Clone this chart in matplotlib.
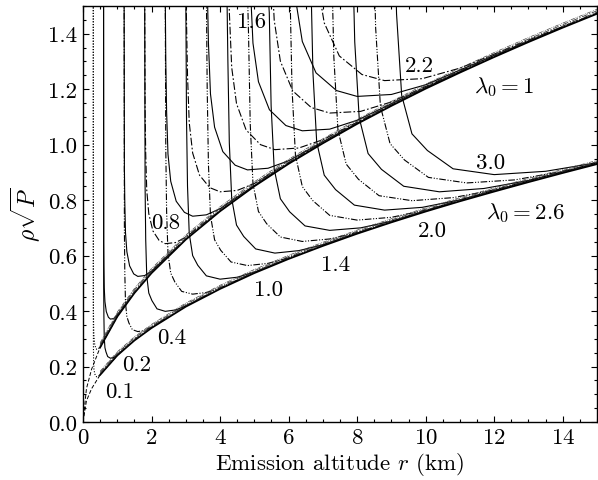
import matplotlib
matplotlib.use("Agg")
import matplotlib.pyplot as plt
from matplotlib import transforms
from matplotlib.ticker import MultipleLocator, FormatStrFormatter

plt.rcParams["font.family"] = ["cmr10", "DejaVu Serif"]
plt.rcParams["mathtext.fontset"] = "cm"
plt.rcParams["axes.formatter.use_mathtext"] = True
plt.rcParams["font.size"] = 16.5

# ---------------- data ----------------
# envelopes (lambda0 = 1 upper band, lambda0 = 2.6 lower band)
env_r = [0.0, 0.1, 0.25, 0.5, 1.0, 1.5, 2.0, 3.0, 4.0, 5.0, 6.0, 7.0, 8.0, 9.0, 10.0, 11.0, 12.0, 13.0, 14.0, 15.0]
env_lam1 = [0.0, 0.12, 0.19, 0.269, 0.38, 0.465, 0.537, 0.658, 0.76, 0.85, 0.931, 1.005, 1.075, 1.14, 1.202, 1.26, 1.316, 1.37, 1.422, 1.472]
env_lam26 = [0.0, 0.076, 0.12, 0.17, 0.24, 0.294, 0.339, 0.416, 0.48, 0.537, 0.588, 0.635, 0.679, 0.72, 0.759, 0.796, 0.831, 0.865, 0.898, 0.93]

# lambda0 = 1 family: curve parameter values and curves (r in km, rho*sqrt(P))
lam1_p = [0.1, 0.2, 0.4, 0.6, 0.8, 1.0, 1.2, 1.4, 1.6, 1.8, 2.0, 2.2]
lam1_r = [
    [0.300, 0.302, 0.305, 0.310, 0.320, 0.340, 0.370, 0.400, 0.450, 0.500, 0.600, 0.700],
    [0.600, 0.604, 0.610, 0.620, 0.640, 0.680, 0.740, 0.800, 0.900, 1.000, 1.200, 1.400],
    [1.200, 1.208, 1.220, 1.240, 1.280, 1.360, 1.480, 1.600, 1.800, 2.000, 2.400, 2.800],
    [1.800, 1.812, 1.830, 1.860, 1.920, 2.040, 2.220, 2.400, 2.700, 3.000, 3.600, 4.200],
    [2.400, 2.416, 2.440, 2.480, 2.560, 2.720, 2.960, 3.200, 3.600, 4.000, 4.800, 5.600],
    [3.000, 3.020, 3.050, 3.100, 3.200, 3.400, 3.700, 4.000, 4.500, 5.000, 6.000, 7.000],
    [3.624, 3.660, 3.720, 3.840, 4.080, 4.440, 4.800, 5.400, 6.000, 7.200, 8.400],
    [4.228, 4.270, 4.340, 4.480, 4.760, 5.180, 5.600, 6.300, 7.000, 8.400, 9.800],
    [4.880, 4.960, 5.120, 5.440, 5.920, 6.400, 7.200, 8.000, 9.600, 11.200],
    [5.490, 5.580, 5.760, 6.120, 6.660, 7.200, 8.100, 9.000, 10.800, 12.600],
    [6.100, 6.200, 6.400, 6.800, 7.400, 8.000, 9.000, 10.000, 12.000, 14.000],
    [6.820, 7.040, 7.480, 8.140, 8.800, 9.900, 11.000, 13.200, 15.400],
]
lam1_y = [
    [1.550, 0.459, 0.395, 0.342, 0.307, 0.281, 0.267, 0.262, 0.264, 0.272, 0.296, 0.318],
    [1.550, 0.648, 0.559, 0.483, 0.434, 0.398, 0.378, 0.371, 0.373, 0.385, 0.418, 0.450],
    [1.550, 0.917, 0.791, 0.683, 0.614, 0.563, 0.534, 0.525, 0.528, 0.544, 0.591, 0.637],
    [1.550, 1.123, 0.968, 0.837, 0.751, 0.689, 0.655, 0.643, 0.647, 0.666, 0.724, 0.780],
    [1.550, 1.297, 1.118, 0.966, 0.868, 0.796, 0.756, 0.742, 0.747, 0.769, 0.836, 0.901],
    [1.550, 1.450, 1.250, 1.080, 0.970, 0.890, 0.845, 0.830, 0.835, 0.860, 0.935, 1.007],
    [1.588, 1.369, 1.183, 1.063, 0.975, 0.926, 0.909, 0.915, 0.942, 1.024, 1.103],
    [1.716, 1.479, 1.278, 1.148, 1.053, 1.000, 0.982, 0.988, 1.018, 1.106, 1.191],
    [1.581, 1.366, 1.227, 1.126, 1.069, 1.050, 1.056, 1.088, 1.183, 1.274],
    [1.677, 1.449, 1.301, 1.194, 1.134, 1.114, 1.120, 1.154, 1.254, 1.351],
    [1.768, 1.527, 1.372, 1.259, 1.195, 1.174, 1.181, 1.216, 1.322, 1.424],
    [1.602, 1.439, 1.320, 1.253, 1.231, 1.238, 1.276, 1.387, 1.494],
]

# lambda0 = 2.6 family
lam26_p = [0.1, 0.2, 0.4, 0.6, 0.8, 1.0, 1.2, 1.4, 1.6, 1.8, 2.0, 2.2, 2.4, 2.6, 2.8, 3.0]
lam26_r = [
    [0.300, 0.302, 0.305, 0.310, 0.320, 0.335, 0.360, 0.400, 0.450, 0.500, 0.600],
    [0.600, 0.604, 0.610, 0.620, 0.640, 0.670, 0.720, 0.800, 0.900, 1.000, 1.200],
    [1.200, 1.208, 1.220, 1.240, 1.280, 1.340, 1.440, 1.600, 1.800, 2.000, 2.400],
    [1.800, 1.812, 1.830, 1.860, 1.920, 2.010, 2.160, 2.400, 2.700, 3.000, 3.600],
    [2.400, 2.416, 2.440, 2.480, 2.560, 2.680, 2.880, 3.200, 3.600, 4.000, 4.800],
    [3.000, 3.020, 3.050, 3.100, 3.200, 3.350, 3.600, 4.000, 4.500, 5.000, 6.000],
    [3.600, 3.624, 3.660, 3.720, 3.840, 4.020, 4.320, 4.800, 5.400, 6.000, 7.200],
    [4.200, 4.228, 4.270, 4.340, 4.480, 4.690, 5.040, 5.600, 6.300, 7.000, 8.400],
    [4.800, 4.832, 4.880, 4.960, 5.120, 5.360, 5.760, 6.400, 7.200, 8.000, 9.600],
    [5.400, 5.436, 5.490, 5.580, 5.760, 6.030, 6.480, 7.200, 8.100, 9.000, 10.800],
    [6.040, 6.100, 6.200, 6.400, 6.700, 7.200, 8.000, 9.000, 10.000, 12.000],
    [6.644, 6.710, 6.820, 7.040, 7.370, 7.920, 8.800, 9.900, 11.000, 13.200],
    [7.248, 7.320, 7.440, 7.680, 8.040, 8.640, 9.600, 10.800, 12.000, 14.400],
    [7.852, 7.930, 8.060, 8.320, 8.710, 9.360, 10.400, 11.700, 13.000, 15.600],
    [8.456, 8.540, 8.680, 8.960, 9.380, 10.080, 11.200, 12.600, 14.000, 16.800],
    [9.060, 9.150, 9.300, 9.600, 10.050, 10.800, 12.000, 13.500, 15.000, 18.000],
]
lam26_y = [
    [1.550, 0.348, 0.269, 0.215, 0.190, 0.179, 0.167, 0.163, 0.165, 0.171, 0.187],
    [1.550, 0.492, 0.380, 0.304, 0.268, 0.253, 0.236, 0.230, 0.233, 0.241, 0.264],
    [1.550, 0.696, 0.538, 0.430, 0.380, 0.357, 0.333, 0.326, 0.330, 0.342, 0.373],
    [1.550, 0.852, 0.658, 0.527, 0.465, 0.438, 0.408, 0.399, 0.404, 0.418, 0.457],
    [1.550, 0.984, 0.760, 0.608, 0.537, 0.505, 0.471, 0.461, 0.467, 0.483, 0.528],
    [1.550, 1.100, 0.850, 0.680, 0.600, 0.565, 0.527, 0.515, 0.522, 0.540, 0.590],
    [1.550, 1.205, 0.931, 0.745, 0.657, 0.619, 0.577, 0.564, 0.572, 0.592, 0.646],
    [1.550, 1.302, 1.006, 0.805, 0.710, 0.669, 0.624, 0.609, 0.618, 0.639, 0.698],
    [1.550, 1.391, 1.075, 0.860, 0.759, 0.715, 0.667, 0.651, 0.660, 0.683, 0.746],
    [1.550, 1.476, 1.140, 0.912, 0.805, 0.758, 0.707, 0.691, 0.700, 0.724, 0.792],
    [1.556, 1.202, 0.962, 0.849, 0.799, 0.745, 0.728, 0.738, 0.764, 0.834],
    [1.632, 1.261, 1.009, 0.890, 0.838, 0.782, 0.764, 0.774, 0.801, 0.875],
    [1.704, 1.317, 1.053, 0.930, 0.875, 0.816, 0.798, 0.809, 0.837, 0.914],
    [1.774, 1.371, 1.097, 0.968, 0.911, 0.850, 0.830, 0.842, 0.871, 0.951],
    [1.841, 1.422, 1.138, 1.004, 0.945, 0.882, 0.862, 0.873, 0.904, 0.987],
    [1.905, 1.472, 1.178, 1.039, 0.979, 0.913, 0.892, 0.904, 0.935, 1.022],
]

# curve labels (text, r, y)
label_text = ["0.1", "0.2", "0.4", "0.8", "1.0", "1.4", "1.6", "2.0", "2.2", "3.0"]
label_r = [1.07, 1.56, 2.60, 2.40, 5.42, 7.37, 4.93, 10.2, 9.83, 11.9]
label_y = [0.112, 0.21, 0.307, 0.72, 0.48, 0.57, 1.444, 0.69, 1.285, 0.935]

# ---------------- styles ----------------
SOLID = "-"
DASHDOT = (0, (7, 2, 1.5, 2))
DASHDOTDOT = (0, (6, 1.5, 1, 1.5, 1, 1.5))
DOTTED = (0, (1, 1.5))
DASHED = (0, (4, 2))


def style_lam1(i):
    if i == 0:
        return DOTTED
    if i == 1:
        return SOLID
    return SOLID if i % 2 == 0 else DASHDOT


def style_lam26(i):
    if i == 0:
        return DOTTED
    return SOLID if i % 2 == 1 else DASHDOTDOT


fig = plt.figure(figsize=(5.98, 4.81), dpi=100)
ax = fig.add_axes([83 / 598, 1 - 423 / 481, (597 - 83) / 598, (423 - 7) / 481])

lw = 0.8
for i, p in enumerate(lam1_p):
    ax.plot(lam1_r[i], lam1_y[i], color="black", lw=lw, ls=style_lam1(i))
for i, p in enumerate(lam26_p):
    ax.plot(lam26_r[i], lam26_y[i], color="black", lw=lw, ls=style_lam26(i))

# thin dashed envelope close to the origin
n0 = 5  # up to r = 1 km
ax.plot(env_r[:n0], env_lam1[:n0], color="black", lw=0.7, ls=DASHED)
ax.plot(env_r[:n0], env_lam26[:n0], color="black", lw=0.7, ls=DASHED)

# envelope bands: several converging curves drawn with small display offsets
band = [(0.0, SOLID, 1.3, "black"), (1.5, DASHDOTDOT, 0.7, "#222222"),
        (3.0, DASHDOT, 0.6, "#333333"), (4.5, DASHDOTDOT, 0.5, "#444444")]
n1 = 3  # from r = 0.25 km
for dy, ls, w, c in band:
    tr = transforms.offset_copy(ax.transData, fig=fig, x=0, y=dy, units="dots")
    ax.plot(env_r[n1:], env_lam1[n1:], color=c, lw=w, ls=ls, transform=tr)
    tr2 = transforms.offset_copy(ax.transData, fig=fig, x=0, y=dy * 0.8, units="dots")
    ax.plot(env_r[n1:], env_lam26[n1:], color=c, lw=w, ls=ls, transform=tr2)

for t, x, y in zip(label_text, label_r, label_y):
    ax.text(x, y, t, ha="center", va="center", fontsize=16.5)
ax.text(12.3, 1.21, r"$\lambda_0 = 1$", ha="center", va="center", fontsize=16.5)
ax.text(12.9, 0.758, r"$\lambda_0 = 2.6$", ha="center", va="center", fontsize=16.5)

ax.set_xlim(0, 15)
ax.set_ylim(0, 1.5)
ax.xaxis.set_major_locator(MultipleLocator(2))
ax.xaxis.set_minor_locator(MultipleLocator(0.5))
ax.yaxis.set_major_locator(MultipleLocator(0.2))
ax.yaxis.set_minor_locator(MultipleLocator(0.05))
ax.yaxis.set_major_formatter(FormatStrFormatter("%.1f"))
ax.tick_params(which="both", direction="in", top=True, right=True, width=0.8)
ax.tick_params(which="major", length=4, pad=4, labelsize=16.5)
ax.tick_params(which="minor", length=2)
for s in ax.spines.values():
    s.set_linewidth(1.0)

ax.set_xlabel(r"Emission altitude $r$ (km)", fontsize=16.5, labelpad=2)
ax.set_ylabel(r"$\rho\sqrt{P}$", fontsize=17, labelpad=4)

fig.savefig("out.png", dpi=100)
